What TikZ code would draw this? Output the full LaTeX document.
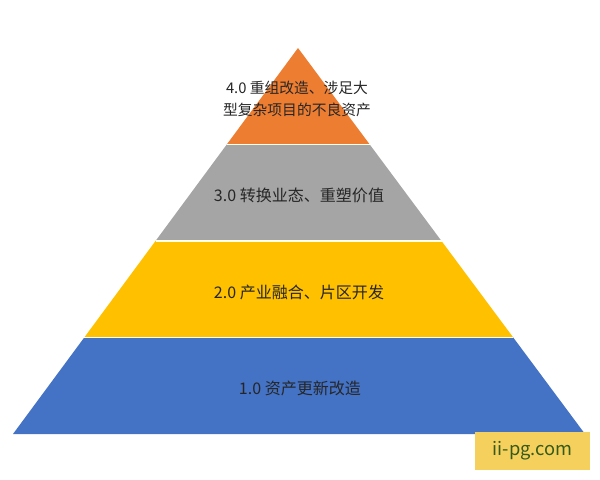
\documentclass[tikz,border=0pt]{standalone}
\usepackage{fontspec}
\newfontfamily\cjk{Noto Sans CJK SC}
\usetikzlibrary{calc}
\usetikzlibrary{positioning}
\definecolor{pyrorange}{HTML}{ED7D31}
\definecolor{pyrgray}{HTML}{A5A5A5}
\definecolor{pyryellow}{HTML}{FFC000}
\definecolor{pyrblue}{HTML}{4472C4}
\definecolor{markfill}{HTML}{F6D05C}
\definecolor{marktext}{HTML}{355A1A}
\tikzstyle{layertext}=[text=black!85,font=\cjk\fontsize{11.4}{15.6}\selectfont,align=center,inner sep=0pt]
\tikzstyle{toptext}=[layertext,font=\cjk\fontsize{10.5}{15.6}\selectfont]
\tikzstyle{layersep}=[draw=white!90!yellow,line width=1.2pt]
\tikzstyle{markbox}=[fill=markfill,minimum width=2.875cm,minimum height=0.95cm,inner sep=0pt,text=marktext,font=\cjk\fontsize{13}{15}\selectfont]

\begin{document}
\begin{tikzpicture}[x=0.025cm,y=-0.025cm]
   \useasboundingbox (0,0) rectangle (600,480);

   \coordinate (apex) at (298,48);
   \coordinate (bl) at (13,434);
   \coordinate (br) at (585,434);
   \foreach \i/\t in {0/0,1/0.25,2/0.5,3/0.75,4/1} {
      \coordinate (l\i) at ($(apex)!\t!(bl)$);
      \coordinate (r\i) at ($(apex)!\t!(br)$);
   }

   \fill[pyrorange] (l0) -- (l1) -- (r1) -- cycle;
   \foreach \a/\b/\col in {1/2/pyrgray, 2/3/pyryellow, 3/4/pyrblue}
      \fill[\col] (l\a) -- (l\b) -- (r\b) -- (r\a) -- cycle;
   \foreach \i in {1,2,3}
      \path[layersep] (l\i) -- (r\i);

   \node[toptext] (lvl4) at (297,99) {4.0 重组改造、涉足大\\型复杂项目的不良资产};
   \node[layertext] (lvl3) at (299,195) {3.0 转换业态、重塑价值};
   \node[layertext] (lvl2) at (299,292) {2.0 产业融合、片区开发};
   \node[layertext] (lvl1) at (300,388) {1.0 资产更新改造};

   \node[markbox] (mark) at (532.5,451) {ii-pg.com};
\end{tikzpicture}
\end{document}
